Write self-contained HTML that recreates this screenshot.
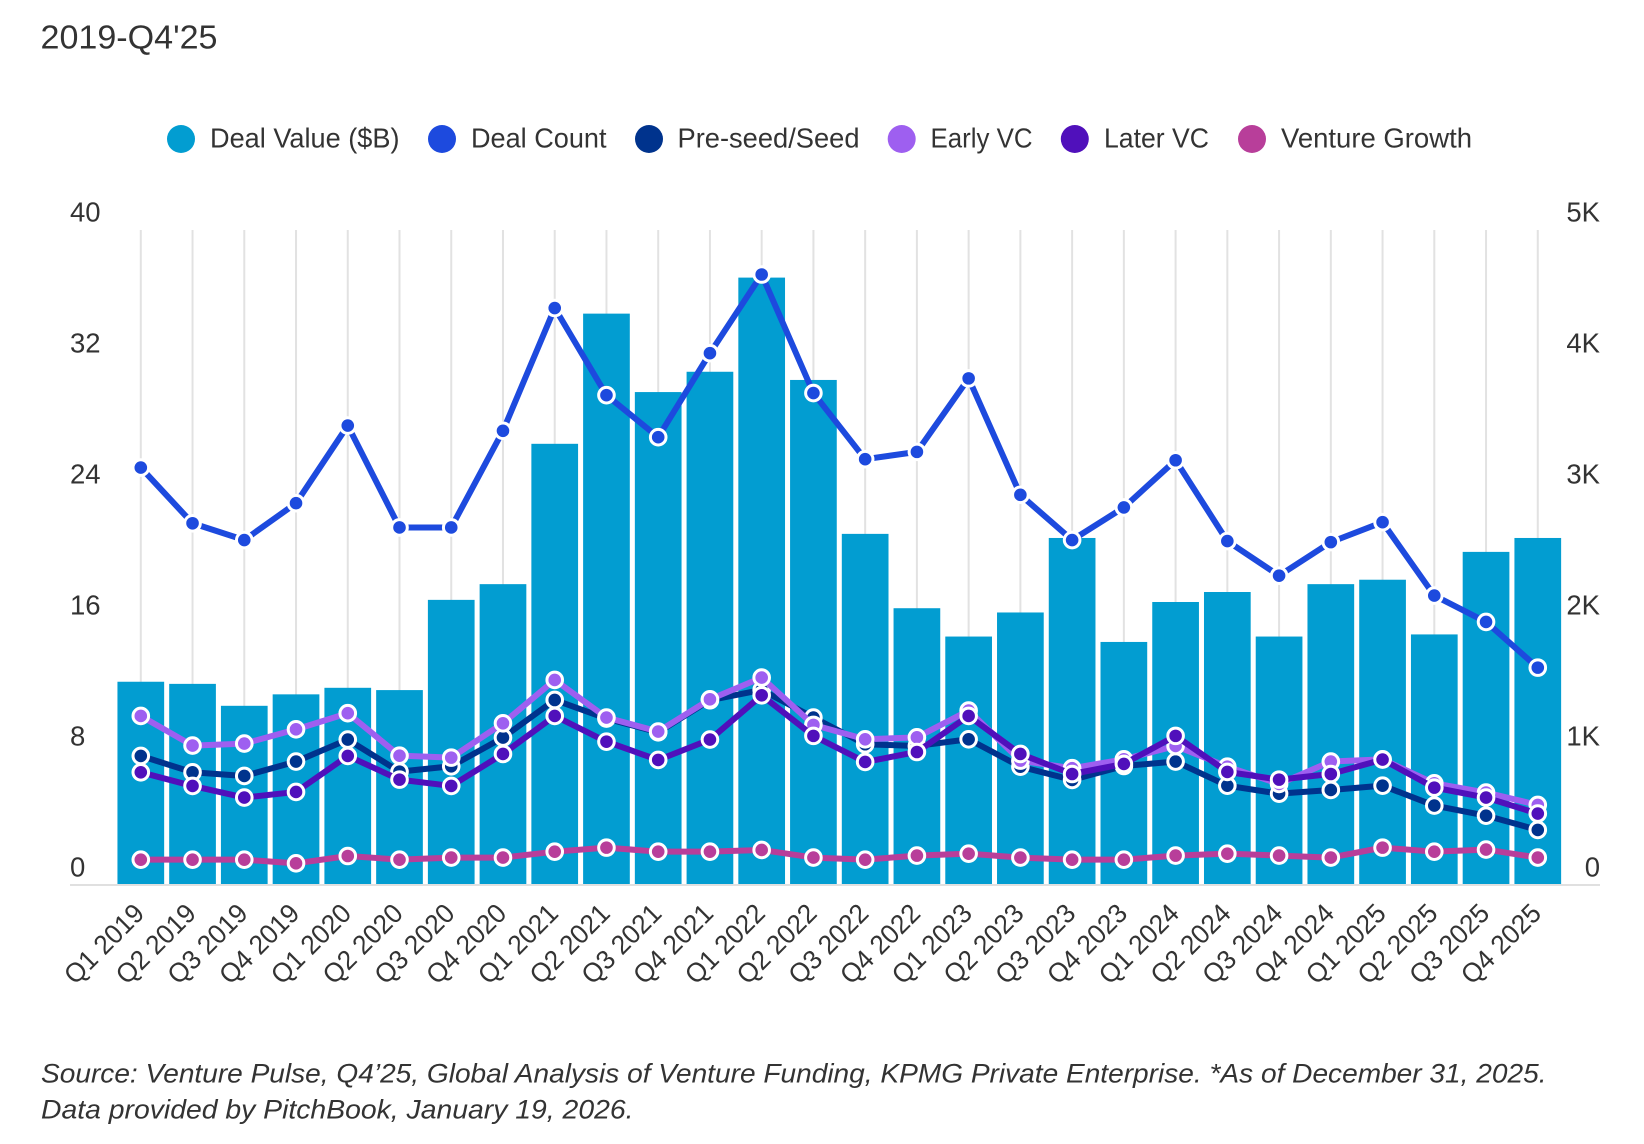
<!DOCTYPE html>
<html lang="en">
<head>
<meta charset="utf-8">
<title>Deal Value and Deal Count 2019-Q4'25</title>
<style>
html,body{margin:0;padding:0;background:#fff;}
svg{display:block;}
text{font-family:"Liberation Sans",sans-serif;fill:#333;}
</style>
</head>
<body>
<svg id="chart" xmlns="http://www.w3.org/2000/svg" width="1644" height="1144" viewBox="0 0 1644 1144">
  <rect x="0" y="0" width="1644" height="1144" fill="#fff"/>
  <text x="40.5" y="48.5" font-size="33" textLength="177" lengthAdjust="spacingAndGlyphs">2019-Q4'25</text>

  <g font-size="28">
    <g>
      <circle cx="181" cy="139" r="14" fill="#029dd1"/>
      <text x="210" y="147.5" textLength="189.5" lengthAdjust="spacingAndGlyphs">Deal Value ($B)</text>
    </g>
    <g>
      <circle cx="442" cy="139" r="14" fill="#1d4ade"/>
      <text x="471" y="147.5" textLength="135.5" lengthAdjust="spacingAndGlyphs">Deal Count</text>
    </g>
    <g>
      <circle cx="649" cy="139" r="14" fill="#00338d"/>
      <text x="677.5" y="147.5" textLength="182" lengthAdjust="spacingAndGlyphs">Pre-seed/Seed</text>
    </g>
    <g>
      <circle cx="901.7" cy="139" r="14" fill="#9e5ff0"/>
      <text x="930.5" y="147.5" textLength="102" lengthAdjust="spacingAndGlyphs">Early VC</text>
    </g>
    <g>
      <circle cx="1074.8" cy="139" r="14" fill="#5010bb"/>
      <text x="1104" y="147.5" textLength="105" lengthAdjust="spacingAndGlyphs">Later VC</text>
    </g>
    <g>
      <circle cx="1252" cy="139" r="14" fill="#b83e9a"/>
      <text x="1281" y="147.5" textLength="191" lengthAdjust="spacingAndGlyphs">Venture Growth</text>
    </g>
  </g>

  <g id="grid"></g>
  <g id="bars"></g>
  <line x1="70" x2="1600" y1="885" y2="885" stroke="#e0e0e0" stroke-width="2"/>
  <g id="leftTicks"></g>
  <g id="rightTicks"></g>
  <g id="xTicks"></g>
  <g id="lines"></g>

  <g font-size="26.5" font-style="italic">
    <text x="41" y="1082.5" textLength="1505.5" lengthAdjust="spacingAndGlyphs">Source: Venture Pulse, Q4’25, Global Analysis of Venture Funding, KPMG Private Enterprise. *As of December 31, 2025.</text>
    <text x="41" y="1118.5" textLength="592.5" lengthAdjust="spacingAndGlyphs">Data provided by PitchBook, January 19, 2026.</text>
  </g>
</svg>

<script>
const categories = ["Q1 2019","Q2 2019","Q3 2019","Q4 2019","Q1 2020","Q2 2020","Q3 2020","Q4 2020","Q1 2021","Q2 2021","Q3 2021","Q4 2021","Q1 2022","Q2 2022","Q3 2022","Q4 2022","Q1 2023","Q2 2023","Q3 2023","Q4 2023","Q1 2024","Q2 2024","Q3 2024","Q4 2024","Q1 2025","Q2 2025","Q3 2025","Q4 2025"];
const dealValue = [12.37,12.24,10.9,11.6,12.0,11.86,17.37,18.33,26.9,34.85,30.06,31.3,37.05,30.8,21.4,16.86,15.13,16.6,21.15,14.8,17.24,17.85,15.13,18.33,18.6,15.26,20.3,21.15];
const dealCount = [3181,2756,2628,2909,3502,2724,2724,3462,4399,3734,3413,4054,4655,3750,3245,3301,3862,2973,2628,2877,3237,2620,2356,2612,2764,2204,2003,1654];
const preSeed = [980,855,827,937,1105,860,901,1120,1407,1265,1160,1405,1484,1273,1069,1056,1107,898,797,903,937,753,692,720,753,601,524,415];
const earlyVC = [1285,1059,1074,1183,1306,982,967,1229,1560,1273,1166,1412,1578,1217,1107,1122,1326,944,886,954,1056,898,766,937,954,771,700,606];
const laterVC = [855,751,662,705,980,799,751,995,1285,1089,949,1105,1443,1133,934,1010,1285,995,842,919,1133,858,799,842,952,738,662,540];
const ventureGrowth = [188,188,188,160,216,188,204,204,249,280,249,249,262,204,188,219,234,204,188,188,219,234,219,204,280,249,265,204];
const leftTickValues = [0,8,16,24,32,40];
const rightTickValues = [0,1000,2000,3000,4000,5000];
const rightTickLabels = ["0","1K","2K","3K","4K","5K"];

const NS = "http://www.w3.org/2000/svg";
const xFirst = 140.8, xStep = 51.74, barWidth = 46.7;
const baseY = 884.3, plotHeight = 655;
const leftMax = 40, rightMax = 5000;
function xPos(i){ return xFirst + i * xStep; }
function yLeft(v){ return baseY - v / leftMax * plotHeight; }
function yRight(v){ return baseY - v / rightMax * plotHeight; }
function make(tag, parent, attrs){
  const el = document.createElementNS(NS, tag);
  for (const k in attrs) el.setAttribute(k, attrs[k]);
  parent.appendChild(el);
  return el;
}

const gridG = document.getElementById("grid");
const barsG = document.getElementById("bars");
const xG = document.getElementById("xTicks");
categories.forEach(function(cat, i){
  const g = make("line", gridG, {x1:xPos(i), x2:xPos(i), y1:230, y2:baseY, stroke:"#e2e2e2", "stroke-width":2});
  
  

  const top = yLeft(dealValue[i]);
  const b = make("rect", barsG, {x:xPos(i)-barWidth/2, y:top, width:barWidth, height:baseY-top, fill:"#029dd1"});
  
  

  const ax = xPos(i) + 5, ay = 915;
  const t = make("text", xG, {x:ax, y:ay, "text-anchor":"end", "font-size":27, textLength:100, lengthAdjust:"spacingAndGlyphs", transform:"rotate(-45 "+ax+" "+ay+")"});
  t.textContent = cat;
  
  
});

const leftG = document.getElementById("leftTicks");
leftTickValues.forEach(function(v){
  const t = make("text", leftG, {x:70, y:yLeft(v)-8, "font-size":27.5});
  t.textContent = String(v);
  
  
});
const rightG = document.getElementById("rightTicks");
rightTickValues.forEach(function(v, i){
  const t = make("text", rightG, {x:1600, y:yRight(v)-8, "font-size":27.5, "text-anchor":"end"});
  t.textContent = rightTickLabels[i];
  
  
});

const linesG = document.getElementById("lines");
function drawSeries(values, color){
  const g = make("g", linesG, {});
  
  
  const d = values.map(function(v, i){ return xPos(i).toFixed(2) + "," + yRight(v).toFixed(2); }).join(" ");
  const path = make("polyline", g, {points:d, fill:"none", stroke:color, "stroke-width":6, "stroke-linejoin":"round"});
  
  
  values.forEach(function(v, i){
    const c = make("circle", g, {cx:xPos(i), cy:yRight(v), r:7.8, fill:color, stroke:"#fff", "stroke-width":3});
    
    
  });
}
drawSeries(dealCount, "#1d4ade");
drawSeries(preSeed, "#00338d");
drawSeries(earlyVC, "#9e5ff0");
drawSeries(laterVC, "#5010bb");
drawSeries(ventureGrowth, "#b83e9a");
</script>
</body>
</html>
